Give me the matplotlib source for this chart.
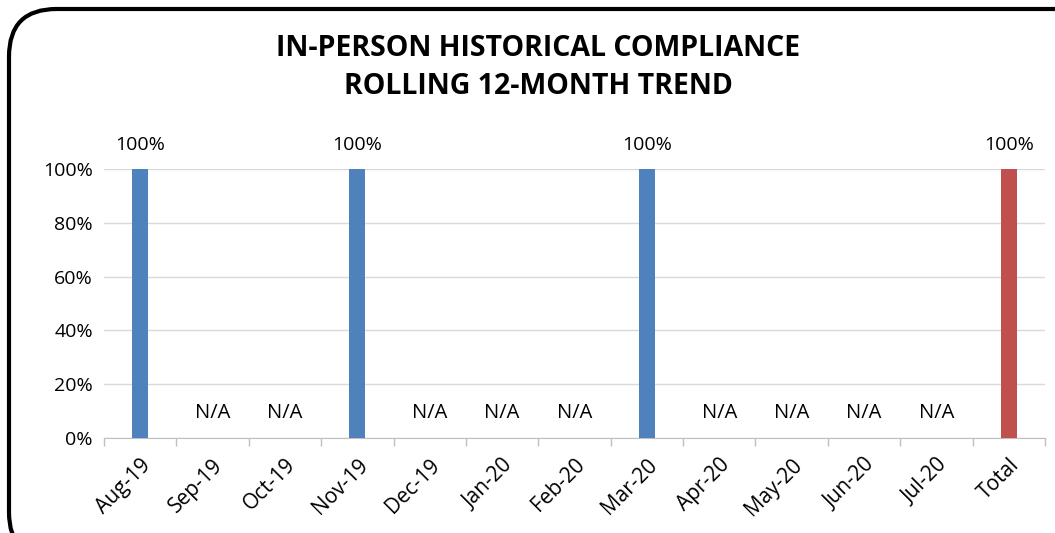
import matplotlib
matplotlib.use('Agg')
import matplotlib.pyplot as plt
from matplotlib.patches import FancyBboxPatch
import numpy as np

plt.rcParams['font.family'] = ['Open Sans', 'DejaVu Sans']

# 数据
months = ['Aug-19', 'Sep-19', 'Oct-19', 'Nov-19', 'Dec-19', 'Jan-20', 'Feb-20',
          'Mar-20', 'Apr-20', 'May-20', 'Jun-20', 'Jul-20', 'Total']
compliance = [1.0, None, None, 1.0, None, None, None, 1.0, None, None, None, None, 1.0]

BLUE = '#4F81BD'
RED = '#C0504D'

fig = plt.figure(figsize=(10.55, 5.33), dpi=100)
ax = fig.add_axes([104 / 1055, 1 - 438 / 533, 941 / 1055, 269 / 533])

x = np.arange(len(months))
vals = [v if v is not None else 0 for v in compliance]
colors = [RED if m == 'Total' else BLUE for m in months]
ax.bar(x, vals, width=0.22, color=colors, zorder=3)

for xi, v in zip(x, compliance):
    if v is None:
        ax.annotate('N/A', (xi, 0), xytext=(0, 11), textcoords='offset points',
                    ha='center', va='bottom', fontsize=14.5)
    else:
        ax.annotate(f'{v:.0%}', (xi, v), xytext=(0, 11), textcoords='offset points',
                    ha='center', va='bottom', fontsize=14)

ax.set_xlim(-0.5, len(months) - 0.5)
ax.set_ylim(0, 1)
ax.set_yticks(np.arange(0, 1.01, 0.2))
ax.set_yticklabels([f'{int(round(t * 100))}%' for t in np.arange(0, 1.01, 0.2)], fontsize=14)
ax.set_xticks(x)
ax.set_xticklabels(months, rotation=45, ha='right', rotation_mode='anchor', fontsize=15)
ax.tick_params(axis='x', length=0, pad=12)
ax.tick_params(axis='y', length=0, pad=8)
ax.set_xticks(np.arange(-0.5, len(months)), minor=True)
ax.tick_params(axis='x', which='minor', length=6, color='#BFBFBF', width=1)

ax.grid(axis='y', color='#D9D9D9', linewidth=1, zorder=0)
for side in ['top', 'right', 'left']:
    ax.spines[side].set_visible(False)
ax.spines['bottom'].set_color('#BFBFBF')

fig.text(538 / 1055, 1 - 48 / 533, 'IN-PERSON HISTORICAL COMPLIANCE', ha='center', va='center',
         fontsize=20.5, fontweight='bold')
fig.text(538 / 1055, 1 - 87 / 533, 'ROLLING 12-MONTH TREND', ha='center', va='center',
         fontsize=20.5, fontweight='bold')

border = FancyBboxPatch((9 / 1055, -0.05), 1.1, 1 - 9 / 533 + 0.05,
                        boxstyle='round,pad=0,rounding_size=0.045',
                        transform=fig.transFigure, fill=False, edgecolor='black',
                        linewidth=3, mutation_aspect=1055 / 533)
fig.patches.append(border)

plt.savefig('out.png', dpi=100, facecolor='white')
plt.close()
